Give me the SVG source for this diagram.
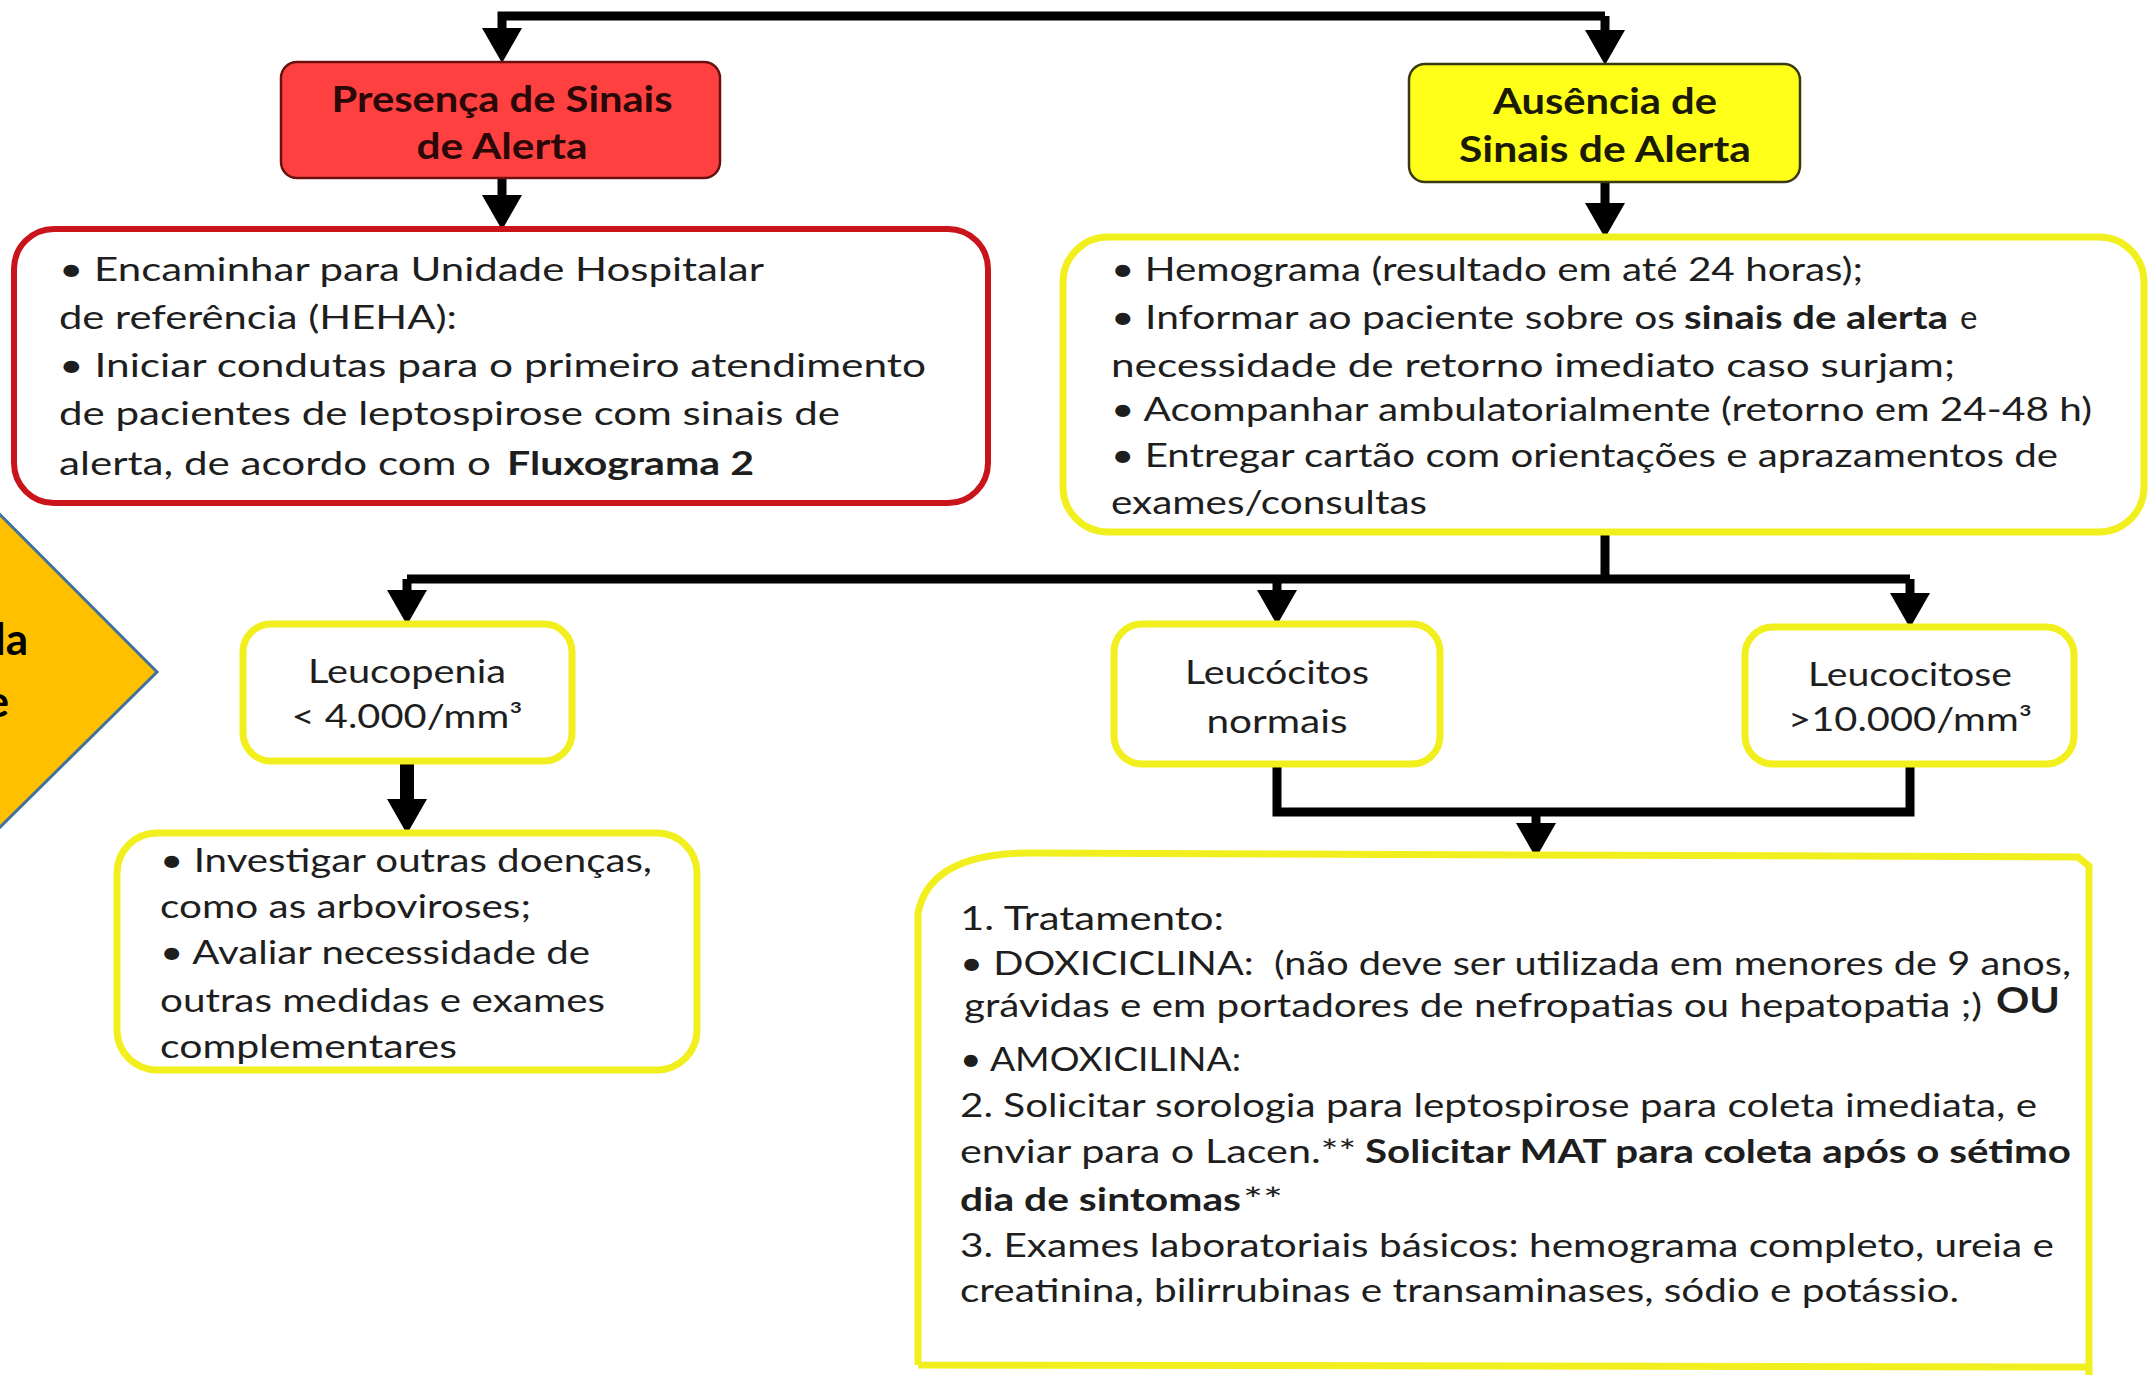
<svg xmlns="http://www.w3.org/2000/svg" width="2151" height="1383" viewBox="0 0 2151 1383">
<defs>
<style>
.t{font-family:Lato,"Open Sans","Liberation Sans",sans-serif;font-size:33px;fill:#1e1e1e}
.b{font-weight:bold}
.ttl{font-family:Lato,"Open Sans","Liberation Sans",sans-serif;font-size:37px;font-weight:bold;fill:#2a0808}
.ttly{font-family:Lato,"Open Sans","Liberation Sans",sans-serif;font-size:37px;font-weight:bold;fill:#1a1a05}
.sm{font-family:Lato,"Open Sans","Liberation Sans",sans-serif;font-size:32px;fill:#1e1e1e}
.ybox{fill:#ffffff;stroke:#F2EF1E;stroke-width:7}
.conn{fill:none;stroke:#000;stroke-width:9}
</style>
<marker id="ah" markerUnits="userSpaceOnUse" markerWidth="40" markerHeight="42" viewBox="0 -21 36 42" refX="0" refY="0" orient="auto">
<path d="M0,-20 L35,0 L0,20 Z" fill="#000"/>
</marker>
</defs>
<rect x="0" y="0" width="2151" height="1383" fill="#ffffff"/>

<g id="connectors">
<path class="conn" d="M1605,16 H502 V28" marker-end="url(#ah)"/>
<path class="conn" d="M1605,16 V30" marker-end="url(#ah)"/>
<path class="conn" d="M502,178 V195" marker-end="url(#ah)"/>
<path class="conn" d="M1605,182 V203" marker-end="url(#ah)"/>
<path class="conn" d="M1605,532 V579"/>
<path class="conn" d="M407,579 H1910"/>
<path class="conn" d="M407,579 V590" marker-end="url(#ah)"/>
<path class="conn" d="M1277,579 V590" marker-end="url(#ah)"/>
<path class="conn" d="M1910,579 V593" marker-end="url(#ah)"/>
<path class="conn" style="stroke-width:14" d="M407,761 V799" marker-end="url(#ah)"/>
<path class="conn" d="M1277,764 V812 H1910 V764"/>
<path class="conn" d="M1536,812 V823" marker-end="url(#ah)"/>
</g>

<g id="diamond">
<polygon points="-170,344 157,672 -170,995" fill="#FFC000" stroke="#41719C" stroke-width="3"/>
<text x="28" y="655" text-anchor="end" font-family="Lato,'Liberation Sans',sans-serif" font-size="44" font-weight="bold" fill="#000">la</text>
<text x="9" y="717" text-anchor="end" font-family="Lato,'Liberation Sans',sans-serif" font-size="44" font-weight="bold" fill="#000">e</text>
</g>

<g id="presenca">
<rect x="281" y="62" width="439" height="116" rx="16" fill="#FF4040" stroke="#6b1010" stroke-width="2.5"/>
<text class="ttl" x="502" y="112" text-anchor="middle" textLength="341" lengthAdjust="spacingAndGlyphs">Presença de Sinais</text>
<text class="ttl" x="502" y="159" text-anchor="middle" textLength="171" lengthAdjust="spacingAndGlyphs">de Alerta</text>
</g>

<g id="ausencia">
<rect x="1409" y="64" width="391" height="118" rx="16" fill="#FFFF1A" stroke="#3a3a10" stroke-width="2.5"/>
<text class="ttly" x="1605" y="114" text-anchor="middle" textLength="224" lengthAdjust="spacingAndGlyphs">Ausência de</text>
<text class="ttly" x="1605" y="162" text-anchor="middle" textLength="292" lengthAdjust="spacingAndGlyphs">Sinais de Alerta</text>
</g>

<g id="encaminhar">
<rect x="14" y="229" width="974" height="274" rx="40" fill="#ffffff" stroke="#C9141C" stroke-width="6"/>
<text class="t" x="59" y="281" textLength="705" lengthAdjust="spacingAndGlyphs">• Encaminhar para Unidade Hospitalar</text>
<text class="t" x="59" y="329" textLength="398" lengthAdjust="spacingAndGlyphs">de referência (HEHA):</text>
<text class="t" x="59" y="377" textLength="867" lengthAdjust="spacingAndGlyphs">• Iniciar condutas para o primeiro atendimento</text>
<text class="t" x="59" y="425" textLength="781" lengthAdjust="spacingAndGlyphs">de pacientes de leptospirose com sinais de</text>
<text class="t" x="59" y="475" textLength="432" lengthAdjust="spacingAndGlyphs">alerta, de acordo com o</text>
<text class="t b" x="507" y="475" textLength="247" lengthAdjust="spacingAndGlyphs">Fluxograma 2</text>
</g>

<g id="hemograma">
<rect class="ybox" x="1063" y="237" width="1081" height="295" rx="45"/>
<text class="t" x="1111" y="281" textLength="752" lengthAdjust="spacingAndGlyphs">• Hemograma (resultado em até 24 horas);</text>
<text class="t" x="1111" y="329" textLength="564" lengthAdjust="spacingAndGlyphs">• Informar ao paciente sobre os</text>
<text class="t b" x="1684" y="329" textLength="264" lengthAdjust="spacingAndGlyphs">sinais de alerta</text>
<text class="t" x="1960" y="329">e</text>
<text class="t" x="1111" y="377" textLength="844" lengthAdjust="spacingAndGlyphs">necessidade de retorno imediato caso surjam;</text>
<text class="t" x="1111" y="421" textLength="981" lengthAdjust="spacingAndGlyphs">• Acompanhar ambulatorialmente (retorno em 24-48 h)</text>
<text class="t" x="1111" y="467" textLength="947" lengthAdjust="spacingAndGlyphs">• Entregar cartão com orientações e aprazamentos de</text>
<text class="t" x="1111" y="514" textLength="316" lengthAdjust="spacingAndGlyphs">exames/consultas</text>
</g>

<g id="leucopenia">
<rect class="ybox" x="243" y="624" width="329" height="137" rx="28"/>
<text class="sm" x="407" y="683" text-anchor="middle" textLength="198" lengthAdjust="spacingAndGlyphs">Leucopenia</text>
<text class="sm" x="407" y="728" text-anchor="middle" textLength="231" lengthAdjust="spacingAndGlyphs">&lt; 4.000/mm³</text>
</g>

<g id="normais">
<rect class="ybox" x="1114" y="624" width="326" height="140" rx="28"/>
<text class="sm" x="1277" y="684" text-anchor="middle" textLength="184" lengthAdjust="spacingAndGlyphs">Leucócitos</text>
<text class="sm" x="1277" y="733" text-anchor="middle" textLength="141" lengthAdjust="spacingAndGlyphs">normais</text>
</g>

<g id="leucocitose">
<rect class="ybox" x="1745" y="627" width="329" height="137" rx="28"/>
<text class="sm" x="1910" y="686" text-anchor="middle" textLength="204" lengthAdjust="spacingAndGlyphs">Leucocitose</text>
<text class="sm" x="1910" y="731" text-anchor="middle" textLength="244" lengthAdjust="spacingAndGlyphs">&gt;10.000/mm³</text>
</g>

<g id="investigar">
<rect class="ybox" x="117" y="833" width="580" height="237" rx="40"/>
<text class="t" x="160" y="872" textLength="492" lengthAdjust="spacingAndGlyphs">• Investigar outras doenças,</text>
<text class="t" x="160" y="918" textLength="371" lengthAdjust="spacingAndGlyphs">como as arboviroses;</text>
<text class="t" x="160" y="964" textLength="430" lengthAdjust="spacingAndGlyphs">• Avaliar necessidade de</text>
<text class="t" x="160" y="1012" textLength="445" lengthAdjust="spacingAndGlyphs">outras medidas e exames</text>
<text class="t" x="160" y="1058" textLength="297" lengthAdjust="spacingAndGlyphs">complementares</text>
</g>

<g id="tratamento">
<path d="M918,1365 L918,913 C926,872 965,853 1030,853 L2078,857 L2089,866 L2089,1375 M2089,1367 L918,1365" fill="#ffffff" stroke="#F2EF1E" stroke-width="7"/>
<text class="t" x="960" y="930" textLength="264" lengthAdjust="spacingAndGlyphs">1. Tratamento:</text>
<text class="t" x="960" y="975" textLength="1111" lengthAdjust="spacingAndGlyphs">• DOXICICLINA: &#160;(não deve ser utilizada em menores de 9 anos,</text>
<text class="t" x="964" y="1017" textLength="1018" lengthAdjust="spacingAndGlyphs">grávidas e em portadores de nefropatias ou hepatopatia ;)</text>
<text class="t b" x="1996" y="1013" style="font-size:37px" textLength="64" lengthAdjust="spacingAndGlyphs">OU</text>
<text class="t" x="960" y="1071" textLength="281" lengthAdjust="spacingAndGlyphs">• AMOXICILINA:</text>
<text class="t" x="960" y="1117" textLength="1077" lengthAdjust="spacingAndGlyphs">2. Solicitar sorologia para leptospirose para coleta imediata, e</text>
<text class="t" x="960" y="1163" textLength="396" lengthAdjust="spacingAndGlyphs">enviar para o Lacen.**</text>
<text class="t b" x="1365" y="1163" textLength="706" lengthAdjust="spacingAndGlyphs">Solicitar MAT para coleta após o sétimo</text>
<text class="t b" x="960" y="1211" textLength="281" lengthAdjust="spacingAndGlyphs">dia de sintomas</text>
<text class="t" x="1243" y="1211" textLength="40" lengthAdjust="spacingAndGlyphs">**</text>
<text class="t" x="960" y="1257" textLength="1094" lengthAdjust="spacingAndGlyphs">3. Exames laboratoriais básicos: hemograma completo, ureia e</text>
<text class="t" x="960" y="1302" textLength="999" lengthAdjust="spacingAndGlyphs">creatinina, bilirrubinas e transaminases, sódio e potássio.</text>
</g>
</svg>
